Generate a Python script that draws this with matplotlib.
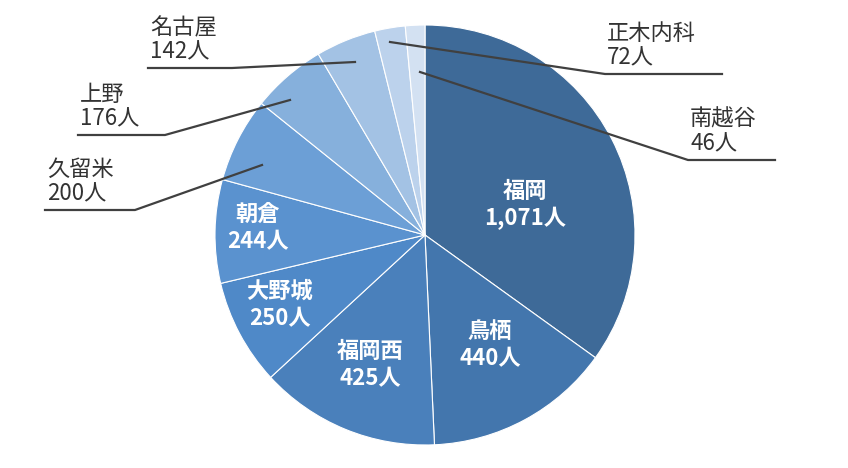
import matplotlib
matplotlib.use("Agg")
import matplotlib.pyplot as plt

categories = ["福岡", "鳥栖", "福岡西", "大野城", "朝倉", "久留米", "上野", "名古屋", "正木内科", "南越谷"]
values = [1071, 440, 425, 250, 244, 200, 176, 142, 72, 46]
colors = ["#3e6a98", "#4376ad", "#4a80bb", "#4f89c8", "#5a92cf", "#6c9fd6", "#86b0dc", "#a3c2e4", "#bcd2ec", "#d3e1f2"]

plt.rcParams['font.family'] = ['Noto Sans CJK JP', 'DejaVu Sans']
W, H = 848, 468
fig = plt.figure(figsize=(W/100, H/100), dpi=100)
cx, cy, R = 425, 235, 210
ax = fig.add_axes([(cx-R)/W, (H-cy-R)/H, 2*R/W, 2*R/H])
ax.pie(values, colors=colors, startangle=90, counterclock=False, radius=1,
       wedgeprops=dict(linewidth=0.8, edgecolor="white"))
ax.set_xlim(-1, 1); ax.set_ylim(-1, 1)
ax.set_aspect("equal", adjustable="datalim")
ax.axis("off")

def d(px, py):
    return (px-cx)/R, (cy-py)/R

inside = {0: (525, 205), 1: (490, 345), 2: (370, 365), 3: (280, 305), 4: (258, 228)}
for i, (px, py) in inside.items():
    x, y = d(px, py)
    ax.text(x, y, f"{categories[i]}\n{values[i]:,}人", color="white", ha="center", va="center",
            fontsize=16, fontweight="bold", linespacing=1.25)

# outside: (text left x, underline y, underline right x, pie point)
outside = {7: (148, 68, 232, (355, 62)),
           8: (605, 74, 722, (390, 42)),
           9: (688, 160, 775, (420, 72)),
           6: (78, 135, 165, (290, 100)),
           5: (45, 210, 135, (262, 165))}
for i, (tx, uy, rx, (ppx, ppy)) in outside.items():
    x0, y0 = d(tx, uy)
    x1, _ = d(rx, uy)
    px, py = d(ppx, ppy)
    if tx > cx:
        ax.plot([px, x0, x1], [py, y0, y0], color="#404040", lw=1.6, clip_on=False)
    else:
        ax.plot([x0, x1, px], [y0, y0, py], color="#404040", lw=1.6, clip_on=False)
    ax.text(x0 + 0.01, y0 + 0.02, f"{categories[i]}\n{values[i]:,}人", color="#333333",
            ha="left", va="bottom", fontsize=16, linespacing=1.1)

fig.savefig("out.png", dpi=100, facecolor="white")
